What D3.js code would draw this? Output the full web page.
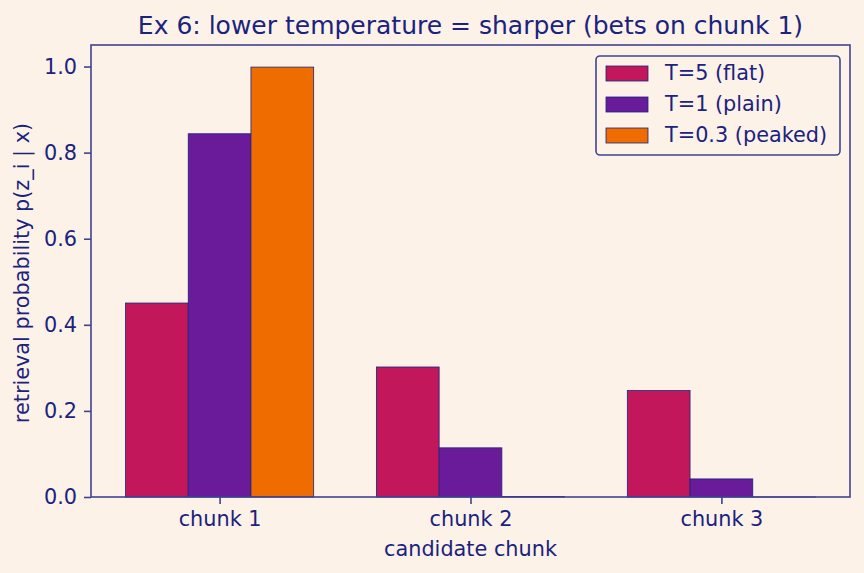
<!DOCTYPE html>
<html>
<head>
<meta charset="utf-8">
<script src="https://cdn.jsdelivr.net/npm/d3@7"></script>
<style>
  html, body { margin: 0; padding: 0; background: #fdf2e8; }
  svg { display: block; }
  text { font-family: "DejaVu Sans", sans-serif; fill: #1a237e; }
</style>
</head>
<body>
<svg id="chart" width="864" height="573"></svg>
<script>
// ---- data ----
const categories = ["chunk 1", "chunk 2", "chunk 3"];
const seriesNames = ["T=5 (flat)", "T=1 (plain)", "T=0.3 (peaked)"];
const seriesFlat = [0.4506, 0.3020, 0.2473];
const seriesPlain = [0.8438, 0.1142, 0.0420];
const seriesPeaked = [0.99869, 0.00127, 0.00005];
const yTicks = [0.0, 0.2, 0.4, 0.6, 0.8, 1.0];
const colors = ["#c2185b", "#6a1b9a", "#ef6c00"];

const series = [seriesFlat, seriesPlain, seriesPeaked];

const W = 864, H = 573;
const m = { left: 91, right: 850, top: 45, bottom: 497 };
const ink = "#1a237e";
const spine = "#3f4390";
const bg = "#fdf2e8";
const fs = 20.8;

const svg = d3.select("#chart");
svg.append("rect").attr("width", W).attr("height", H).attr("fill", bg);

const barW = 0.25;
const x = d3.scaleLinear().domain([-0.5125, 2.5125]).range([m.left, m.right]);
const y = d3.scaleLinear().domain([0, 1.05]).range([m.bottom, m.top]);

// bars
series.forEach((vals, si) => {
  const off = (si - 1) * barW;
  svg.append("g").selectAll("rect").data(vals).join("rect")
    .attr("x", (d, i) => x(i + off - barW / 2))
    .attr("width", (d, i) => x(i + off + barW / 2) - x(i + off - barW / 2))
    .attr("y", d => y(d))
    .attr("height", d => y(0) - y(d))
    .attr("fill", colors[si])
    .attr("stroke", ink)
    .attr("stroke-width", 0.8);
});

// axes frame
svg.append("rect")
  .attr("x", m.left).attr("y", m.top)
  .attr("width", m.right - m.left).attr("height", m.bottom - m.top)
  .attr("fill", "none").attr("stroke", spine).attr("stroke-width", 1.6);

// y axis
const yAxis = d3.axisLeft(y).tickValues(yTicks).tickFormat(d3.format(".1f"))
  .tickSize(7).tickPadding(7);
const gy = svg.append("g").attr("transform", `translate(${m.left},0)`).call(yAxis);
gy.select(".domain").remove();
gy.selectAll("line").attr("stroke", spine).attr("stroke-width", 1.6);
gy.selectAll("text").attr("font-size", fs).attr("fill", ink)
  .style("font-family", "DejaVu Sans");

// x axis
const xAxis = d3.axisBottom(x).tickValues(categories.map((c, i) => i))
  .tickFormat(i => categories[i]).tickSize(7).tickPadding(7);
const gx = svg.append("g").attr("transform", `translate(0,${m.bottom})`).call(xAxis);
gx.select(".domain").remove();
gx.selectAll("line").attr("stroke", spine).attr("stroke-width", 1.6);
gx.selectAll("text").attr("font-size", fs).attr("fill", ink)
  .style("font-family", "DejaVu Sans");

// labels
svg.append("text").attr("x", (m.left + m.right) / 2).attr("y", 556)
  .attr("text-anchor", "middle").attr("font-size", fs).text("candidate chunk");
svg.append("text")
  .attr("transform", `translate(29,${(m.top + m.bottom) / 2 + 2}) rotate(-90)`)
  .attr("text-anchor", "middle").attr("font-size", fs)
  .text("retrieval probability p(z_i | x)");
svg.append("text").attr("x", (m.left + m.right) / 2).attr("y", 33.5)
  .attr("text-anchor", "middle").attr("font-size", 25)
  .text("Ex 6: lower temperature = sharper (bets on chunk 1)");

// legend
const lg = svg.append("g");
lg.append("rect").attr("x", 596).attr("y", 56).attr("width", 244).attr("height", 99)
  .attr("rx", 4).attr("fill", bg).attr("stroke", spine).attr("stroke-width", 1.6);
seriesNames.forEach((name, i) => {
  const cy = 73 + i * 31;
  lg.append("rect").attr("x", 606).attr("y", cy - 7).attr("width", 42).attr("height", 15)
    .attr("fill", colors[i]).attr("stroke", ink).attr("stroke-width", 0.8);
  lg.append("text").attr("x", 665).attr("y", cy + 7).attr("font-size", fs).text(name);
});
</script>
</body>
</html>
